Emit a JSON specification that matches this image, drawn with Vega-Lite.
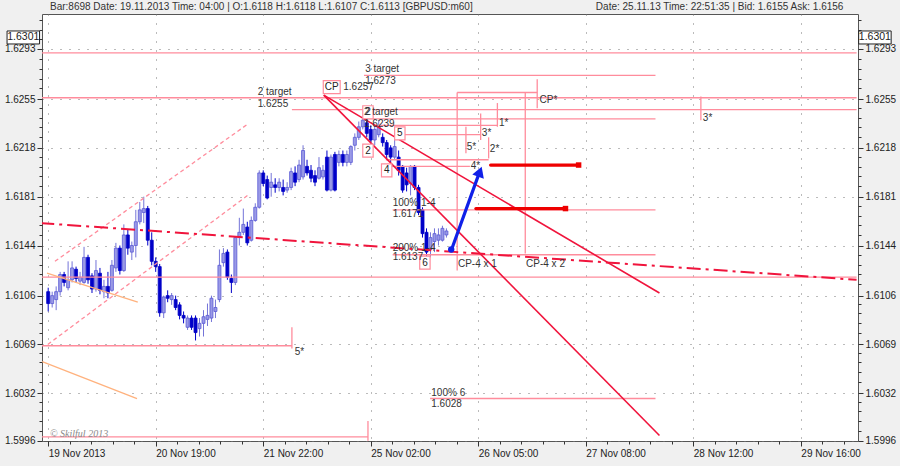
{
"$schema":"https://vega.github.io/schema/vega-lite/v6.json",
"width":816,"height":427,
"autosize":{"type":"none"},
"padding":{"left":42,"top":14,"right":42,"bottom":25},
"background":"#f0f0f0",
"config":{"view":{"fill":"white","stroke":"#555555","strokeWidth":1},"font":"Liberation Sans","axis":{"labelFont":"Liberation Sans","labelFontSize":10,"labelColor":"#222222","tickColor":"#333333","domain":false,"title":null}},
"datasets":{
"candles":[
{"k":0,"o":1.6109,"h":1.6112,"l":1.6094,"c":1.6100},
{"k":1,"o":1.6100,"h":1.6109,"l":1.6097,"c":1.6106},
{"k":2,"o":1.6103,"h":1.6113,"l":1.6095,"c":1.6109},
{"k":3,"o":1.6109,"h":1.6124,"l":1.6106,"c":1.6122},
{"k":4,"o":1.6122,"h":1.6124,"l":1.6113,"c":1.6116},
{"k":5,"o":1.6112,"h":1.6132,"l":1.6110,"c":1.6118},
{"k":6,"o":1.6118,"h":1.6132,"l":1.6116,"c":1.6127},
{"k":7,"o":1.6126,"h":1.6128,"l":1.6116,"c":1.6119},
{"k":8,"o":1.6117,"h":1.6124,"l":1.6114,"c":1.6120},
{"k":9,"o":1.6116,"h":1.6143,"l":1.6115,"c":1.6135},
{"k":10,"o":1.6135,"h":1.6137,"l":1.6115,"c":1.6118},
{"k":11,"o":1.6121,"h":1.6123,"l":1.6108,"c":1.6111},
{"k":12,"o":1.6111,"h":1.6133,"l":1.6109,"c":1.6125},
{"k":13,"o":1.6123,"h":1.6127,"l":1.6107,"c":1.6110},
{"k":14,"o":1.6109,"h":1.6118,"l":1.6104,"c":1.6113},
{"k":15,"o":1.6113,"h":1.6124,"l":1.6104,"c":1.6108},
{"k":16,"o":1.6110,"h":1.6133,"l":1.6109,"c":1.6129},
{"k":17,"o":1.6127,"h":1.6146,"l":1.6124,"c":1.6142},
{"k":18,"o":1.6142,"h":1.6144,"l":1.6122,"c":1.6125},
{"k":19,"o":1.6125,"h":1.6160,"l":1.6124,"c":1.6152},
{"k":20,"o":1.6152,"h":1.6156,"l":1.6137,"c":1.6142},
{"k":21,"o":1.6139,"h":1.6147,"l":1.6133,"c":1.6144},
{"k":22,"o":1.6144,"h":1.6171,"l":1.6135,"c":1.6162},
{"k":23,"o":1.6162,"h":1.6177,"l":1.6160,"c":1.6171},
{"k":24,"o":1.6169,"h":1.6181,"l":1.6161,"c":1.6172},
{"k":25,"o":1.6172,"h":1.6174,"l":1.6144,"c":1.6148},
{"k":26,"o":1.6148,"h":1.6154,"l":1.6129,"c":1.6132},
{"k":27,"o":1.6132,"h":1.6135,"l":1.6124,"c":1.6128},
{"k":28,"o":1.6128,"h":1.6130,"l":1.6090,"c":1.6093},
{"k":29,"o":1.6093,"h":1.6106,"l":1.6089,"c":1.6105},
{"k":30,"o":1.6106,"h":1.6110,"l":1.6101,"c":1.6104},
{"k":31,"o":1.6103,"h":1.6108,"l":1.6099,"c":1.6106},
{"k":32,"o":1.6103,"h":1.6106,"l":1.6095,"c":1.6097},
{"k":33,"o":1.6099,"h":1.6101,"l":1.6088,"c":1.6091},
{"k":34,"o":1.6091,"h":1.6094,"l":1.6085,"c":1.6089},
{"k":35,"o":1.6082,"h":1.6091,"l":1.6080,"c":1.6089},
{"k":36,"o":1.6089,"h":1.6091,"l":1.6080,"c":1.6082},
{"k":37,"o":1.6089,"h":1.6091,"l":1.6072,"c":1.6078},
{"k":38,"o":1.6081,"h":1.6089,"l":1.6075,"c":1.6085},
{"k":39,"o":1.6085,"h":1.6095,"l":1.6075,"c":1.6090},
{"k":40,"o":1.6088,"h":1.6100,"l":1.6083,"c":1.6091},
{"k":41,"o":1.6089,"h":1.6106,"l":1.6086,"c":1.6104},
{"k":42,"o":1.6094,"h":1.6103,"l":1.6089,"c":1.6097},
{"k":43,"o":1.6103,"h":1.6141,"l":1.6101,"c":1.6129},
{"k":44,"o":1.6131,"h":1.6142,"l":1.6128,"c":1.6138},
{"k":45,"o":1.6139,"h":1.6141,"l":1.6118,"c":1.6120},
{"k":46,"o":1.6119,"h":1.6122,"l":1.6108,"c":1.6116},
{"k":47,"o":1.6116,"h":1.6151,"l":1.6114,"c":1.6150},
{"k":48,"o":1.6150,"h":1.6165,"l":1.6144,"c":1.6154},
{"k":49,"o":1.6154,"h":1.6172,"l":1.6152,"c":1.6160},
{"k":50,"o":1.6158,"h":1.6162,"l":1.6144,"c":1.6146},
{"k":51,"o":1.6148,"h":1.6166,"l":1.6147,"c":1.6163},
{"k":52,"o":1.6163,"h":1.6176,"l":1.6162,"c":1.6173},
{"k":53,"o":1.6173,"h":1.6201,"l":1.6172,"c":1.6199},
{"k":54,"o":1.6199,"h":1.6201,"l":1.6189,"c":1.6191},
{"k":55,"o":1.6194,"h":1.6197,"l":1.6179,"c":1.6180},
{"k":56,"o":1.6188,"h":1.6199,"l":1.6181,"c":1.6192},
{"k":57,"o":1.6190,"h":1.6195,"l":1.6184,"c":1.6188},
{"k":58,"o":1.6188,"h":1.6195,"l":1.6185,"c":1.6192},
{"k":59,"o":1.6188,"h":1.6194,"l":1.6182,"c":1.6185},
{"k":60,"o":1.6186,"h":1.6192,"l":1.6184,"c":1.6188},
{"k":61,"o":1.6188,"h":1.6203,"l":1.6186,"c":1.6200},
{"k":62,"o":1.6199,"h":1.6204,"l":1.6189,"c":1.6192},
{"k":63,"o":1.6194,"h":1.6209,"l":1.6192,"c":1.6205},
{"k":64,"o":1.6196,"h":1.6220,"l":1.6194,"c":1.6216},
{"k":65,"o":1.6204,"h":1.6209,"l":1.6197,"c":1.6199},
{"k":66,"o":1.6201,"h":1.6205,"l":1.6192,"c":1.6195},
{"k":67,"o":1.6197,"h":1.6201,"l":1.6189,"c":1.6192},
{"k":68,"o":1.6195,"h":1.6211,"l":1.6194,"c":1.6203},
{"k":69,"o":1.6196,"h":1.6205,"l":1.6194,"c":1.6201},
{"k":70,"o":1.6211,"h":1.6216,"l":1.6185,"c":1.6186},
{"k":71,"o":1.6186,"h":1.6213,"l":1.6185,"c":1.6211},
{"k":72,"o":1.6213,"h":1.6215,"l":1.6185,"c":1.6186},
{"k":73,"o":1.6207,"h":1.6216,"l":1.6204,"c":1.6213},
{"k":74,"o":1.6213,"h":1.6216,"l":1.6204,"c":1.6207},
{"k":75,"o":1.6207,"h":1.6216,"l":1.6204,"c":1.6213},
{"k":76,"o":1.6207,"h":1.6220,"l":1.6205,"c":1.6219},
{"k":77,"o":1.6220,"h":1.6229,"l":1.6216,"c":1.6226},
{"k":78,"o":1.6226,"h":1.6238,"l":1.6224,"c":1.6234},
{"k":79,"o":1.6234,"h":1.6241,"l":1.6232,"c":1.6239},
{"k":80,"o":1.6237,"h":1.6239,"l":1.6226,"c":1.6229},
{"k":81,"o":1.6232,"h":1.6235,"l":1.6220,"c":1.6224},
{"k":82,"o":1.6224,"h":1.6235,"l":1.6220,"c":1.6232},
{"k":83,"o":1.6228,"h":1.6239,"l":1.6226,"c":1.6234},
{"k":84,"o":1.6226,"h":1.6229,"l":1.6219,"c":1.6222},
{"k":85,"o":1.6222,"h":1.6224,"l":1.6209,"c":1.6213},
{"k":86,"o":1.6218,"h":1.6220,"l":1.6207,"c":1.6211},
{"k":87,"o":1.6211,"h":1.6229,"l":1.6209,"c":1.6219},
{"k":88,"o":1.6211,"h":1.6216,"l":1.6197,"c":1.6201},
{"k":89,"o":1.6204,"h":1.6205,"l":1.6184,"c":1.6186},
{"k":90,"o":1.6199,"h":1.6203,"l":1.6185,"c":1.6190},
{"k":91,"o":1.6191,"h":1.6205,"l":1.6182,"c":1.6204},
{"k":92,"o":1.6204,"h":1.6205,"l":1.6186,"c":1.6188},
{"k":93,"o":1.6188,"h":1.6190,"l":1.6167,"c":1.6169},
{"k":94,"o":1.6171,"h":1.6173,"l":1.6150,"c":1.6153},
{"k":95,"o":1.6154,"h":1.6157,"l":1.6135,"c":1.6139},
{"k":96,"o":1.6141,"h":1.6154,"l":1.6135,"c":1.6150},
{"k":97,"o":1.6147,"h":1.6157,"l":1.6139,"c":1.6153},
{"k":98,"o":1.6148,"h":1.6157,"l":1.6144,"c":1.6152},
{"k":99,"o":1.6148,"h":1.6159,"l":1.6147,"c":1.6157},
{"k":100,"o":1.6152,"h":1.6157,"l":1.6150,"c":1.6155}
],
"segs":[
{"kind":"level","k":-2,"p":1.6290,"k2":203,"p2":1.6290},
{"kind":"level","k":-2,"p":1.6256,"k2":203,"p2":1.6256},
{"kind":"level","k":79.3,"p":1.6273,"k2":152.5,"p2":1.6273},
{"kind":"level","k":61.2,"p":1.6247,"k2":203,"p2":1.6247},
{"kind":"level","k":79.3,"p":1.6240,"k2":152.5,"p2":1.6240},
{"kind":"level","k":81.6,"p":1.6235,"k2":112.8,"p2":1.6235},
{"kind":"level","k":88.3,"p":1.6228,"k2":108.6,"p2":1.6228},
{"kind":"level","k":84.8,"p":1.6209,"k2":110.6,"p2":1.6209},
{"kind":"level","k":84.8,"p":1.6204,"k2":105.9,"p2":1.6204},
{"kind":"level","k":86.5,"p":1.6171,"k2":152.5,"p2":1.6171},
{"kind":"level","k":86.5,"p":1.6137,"k2":152.5,"p2":1.6137},
{"kind":"level","k":-2,"p":1.6120,"k2":203,"p2":1.6120},
{"kind":"level","k":-2,"p":1.6068,"k2":61.2,"p2":1.6068},
{"kind":"level","k":95.9,"p":1.6028,"k2":152.5,"p2":1.6028},
{"kind":"level","k":-2,"p":1.5999,"k2":80.3,"p2":1.5999},
{"kind":"level","k":102.7,"p":1.6260,"k2":122.8,"p2":1.6260},
{"kind":"level","k":102.7,"p":1.6260,"k2":102.7,"p2":1.6125},
{"kind":"level","k":119.8,"p":1.6260,"k2":119.8,"p2":1.6138},
{"kind":"level","k":122.8,"p":1.6270,"k2":122.8,"p2":1.6248},
{"kind":"level","k":163.9,"p":1.6257,"k2":163.9,"p2":1.6239},
{"kind":"level","k":112.8,"p":1.6252,"k2":112.8,"p2":1.6234},
{"kind":"level","k":108.6,"p":1.6244,"k2":108.6,"p2":1.6224},
{"kind":"level","k":110.6,"p":1.6226,"k2":110.6,"p2":1.6210},
{"kind":"level","k":104.9,"p":1.6234,"k2":104.9,"p2":1.6214},
{"kind":"level","k":61.2,"p":1.6082,"k2":61.2,"p2":1.6066},
{"kind":"level","k":80.3,"p":1.6011,"k2":80.3,"p2":1.5996},
{"kind":"channel","k":1.7,"p":1.6132,"k2":50.1,"p2":1.6236},
{"kind":"channel","k":-0.1,"p":1.6069,"k2":50.1,"p2":1.6182},
{"kind":"fan","k":-0.3,"p":1.6123,"k2":22.5,"p2":1.6101},
{"kind":"fan","k":-1.5,"p":1.6056,"k2":22.3,"p2":1.6028},
{"kind":"pivot","k":-2,"p":1.6161,"k2":203,"p2":1.6118},
{"kind":"trend","k":69.2,"p":1.6258,"k2":153.5,"p2":1.6108},
{"kind":"trend","k":69.2,"p":1.6258,"k2":153.5,"p2":1.6000},
{"kind":"zone","k":111.1,"p":1.6205,"k2":133.2,"p2":1.6205},
{"kind":"zone","k":107.4,"p":1.6172,"k2":129.9,"p2":1.6172},
{"kind":"forecast","k":101.3,"p":1.6141,"k2":108.0,"p2":1.6197}
],
"arrow":[
{"part":"head","k":108.4,"p":1.6200},
{"part":"start","k":101.2,"p":1.6141}
],
"notes":[
{"k":52.6,"p":1.6260,"t":"2 target"},
{"k":52.6,"p":1.6251,"t":"1.6255"},
{"k":79.6,"p":1.6278,"t":"3 target"},
{"k":79.6,"p":1.6269,"t":"1.6273"},
{"k":74.1,"p":1.6264,"t":"1.6257"},
{"k":79.3,"p":1.6245,"t":"2 target"},
{"k":79.3,"p":1.6236,"t":"1.6239"},
{"k":86.5,"p":1.6176,"t":"100% 1-4"},
{"k":86.5,"p":1.6168,"t":"1.6171"},
{"k":86.5,"p":1.6142,"t":"200% 1-4"},
{"k":86.5,"p":1.6135,"t":"1.6137"},
{"k":96.2,"p":1.6032,"t":"100% 6"},
{"k":96.2,"p":1.6024,"t":"1.6028"},
{"k":102.9,"p":1.6130,"t":"CP-4 x 1"},
{"k":120.0,"p":1.6130,"t":"CP-4 x 2"},
{"k":123.4,"p":1.6254,"t":"CP*"},
{"k":164.4,"p":1.6241,"t":"3*"},
{"k":113.2,"p":1.6237,"t":"1*"},
{"k":108.9,"p":1.6229,"t":"3*"},
{"k":110.9,"p":1.6217,"t":"2*"},
{"k":105.1,"p":1.6219,"t":"5*"},
{"k":106.1,"p":1.6204,"t":"4*"},
{"k":61.9,"p":1.6063,"t":"5*"}
],
"boxes":[
{"k":71.2,"p":1.6264,"t":"CP"},
{"k":80.3,"p":1.6245,"t":"2"},
{"k":80.3,"p":1.6216,"t":"2"},
{"k":88.3,"p":1.6229,"t":"5"},
{"k":85.0,"p":1.6201,"t":"4"},
{"k":94.6,"p":1.6131,"t":"6"}
],
"header":[
{"k":0.45,"p":1.63248,"t":"Bar:8698  Date:  19.11.2013  Time:  04:00  |  O:1.6118  H:1.6118  L:1.6107  C:1.6113   [GBPUSD:m60]","side":"left"},
{"k":199.7,"p":1.63248,"t":"Date: 25.11.13  Time: 22:51:35 | Bid: 1.6155  Ask: 1.6156","side":"right"}
],
"pricebox":[
{"k":-6.25,"p":1.63017,"t":"1.6301"},
{"k":207.6,"p":1.63017,"t":"1.6301"}
],
"copyright":[
{"k":0.45,"p":1.6001,"t":"© Skilful 2013"}
]
},
"resolve":{"scale":{"x":"shared","y":"shared"},"axis":{"x":"independent","y":"independent"}},
"layer":[
{"data":{"name":"candles"},"mark":{"type":"point","opacity":0},
 "encoding":{
  "x":{"field":"k","type":"quantitative","scale":{"domain":[-0.3,202.1],"nice":false,"zero":false},
       "axis":{"orient":"bottom","values":[0,27,54,81,108,135,162,189],"labelExpr":"datum.value == 0 ? '19 Nov 2013' : datum.value == 27 ? '20 Nov 19:00' : datum.value == 54 ? '21 Nov 22:00' : datum.value == 81 ? '25 Nov 02:00' : datum.value == 108 ? '26 Nov 05:00' : datum.value == 135 ? '27 Nov 08:00' : datum.value == 162 ? '28 Nov 12:00' : '29 Nov 16:00'","labelAlign":"left","labelPadding":2,"tickSize":5,"grid":true,"gridDash":[1,8],"gridColor":"#777777","labelOverlap":false,"labelFlush":false}},
  "y":{"field":"c","type":"quantitative","scale":{"domain":[1.59958,1.63195],"nice":false,"zero":false},
       "axis":{"orient":"left","values":[1.5996,1.6032,1.6069,1.6106,1.6144,1.6181,1.6218,1.6255,1.6293],"format":".4f","tickSize":5,"labelPadding":2,"grid":true,"gridDash":[1,8],"gridColor":"#777777","labelOverlap":false,"labelFlush":false}}}},
{"data":{"name":"candles"},"mark":{"type":"point","opacity":0},
 "encoding":{
  "x":{"field":"k","type":"quantitative","scale":{"domain":[-0.3,202.1],"nice":false,"zero":false},
       "axis":{"orient":"bottom","values":[5.4,10.8,16.2,21.6,32.4,37.8,43.2,48.6,59.4,64.8,70.2,75.6,86.4,91.8,97.2,102.6,113.4,118.8,124.2,129.6,140.4,145.8,151.2,156.6,167.4,172.8,178.2,183.6,194.4,199.8],"labels":false,"tickSize":3,"grid":false}},
  "y":{"field":"c","type":"quantitative","scale":{"domain":[1.59958,1.63195],"nice":false,"zero":false},
       "axis":{"orient":"right","values":[1.5996,1.6032,1.6069,1.6106,1.6144,1.6181,1.6218,1.6255,1.6293],"format":".4f","tickSize":5,"labelPadding":2,"grid":false,"labelOverlap":false,"labelFlush":false}}}},
{"data":{"name":"candles"},"mark":{"type":"point","opacity":0},
 "encoding":{
  "x":{"field":"k","type":"quantitative","scale":{"domain":[-0.3,202.1],"nice":false,"zero":false},"axis":null},
  "y":{"field":"c","type":"quantitative","scale":{"domain":[1.59958,1.63195],"nice":false,"zero":false},
       "axis":{"orient":"left","values":[1.60034,1.60108,1.60183,1.60257,1.60405,1.60479,1.60554,1.60628,1.60776,1.6085,1.60925,1.60999,1.61147,1.61222,1.61296,1.6137,1.61518,1.61593,1.61667,1.61741,1.61889,1.61964,1.62038,1.62112,1.6226,1.62335,1.62409,1.62483,1.62632,1.62706,1.6278,1.62854,1.63003,1.63077,1.63151],"labels":false,"tickSize":3,"grid":false}}}},
{"data":{"name":"candles"},"mark":{"type":"point","opacity":0},
 "encoding":{
  "x":{"field":"k","type":"quantitative","scale":{"domain":[-0.3,202.1],"nice":false,"zero":false},"axis":null},
  "y":{"field":"c","type":"quantitative","scale":{"domain":[1.59958,1.63195],"nice":false,"zero":false},
       "axis":{"orient":"right","values":[1.60034,1.60108,1.60183,1.60257,1.60405,1.60479,1.60554,1.60628,1.60776,1.6085,1.60925,1.60999,1.61147,1.61222,1.61296,1.6137,1.61518,1.61593,1.61667,1.61741,1.61889,1.61964,1.62038,1.62112,1.6226,1.62335,1.62409,1.62483,1.62632,1.62706,1.6278,1.62854,1.63003,1.63077,1.63151],"labels":false,"tickSize":3,"grid":false}}}},
{"data":{"name":"candles"},"mark":{"type":"rule","strokeWidth":1},
 "encoding":{
  "x":{"field":"k","type":"quantitative","scale":{"domain":[-0.3,202.1],"nice":false,"zero":false},"axis":null},
  "y":{"field":"h","type":"quantitative","scale":{"domain":[1.59958,1.63195],"nice":false,"zero":false},"axis":null},
  "y2":{"field":"l"},
  "color":{"condition":{"test":"datum.c >= datum.o","value":"#7474d8"},"value":"#0000c8"}}},
{"data":{"name":"candles"},"mark":{"type":"bar","size":3,"strokeWidth":0.8},
 "encoding":{
  "x":{"field":"k","type":"quantitative","scale":{"domain":[-0.3,202.1],"nice":false,"zero":false},"axis":null},
  "y":{"field":"o","type":"quantitative","scale":{"domain":[1.59958,1.63195],"nice":false,"zero":false},"axis":null},
  "y2":{"field":"c"},
  "fill":{"condition":{"test":"datum.c >= datum.o","value":"#9a9ae6"},"value":"#0000c8"},
  "stroke":{"condition":{"test":"datum.c >= datum.o","value":"#5a5ad6"},"value":"#0000c8"}}},
{"data":{"name":"segs"},"transform":[{"filter":"datum.kind == 'level'"}],"mark":{"type":"rule","color":"#ff8c9c","strokeWidth":1.3,"clip":true},
 "encoding":{
  "x":{"field":"k","type":"quantitative","scale":{"domain":[-0.3,202.1],"nice":false,"zero":false},"axis":null},
  "x2":{"field":"k2"},
  "y":{"field":"p","type":"quantitative","scale":{"domain":[1.59958,1.63195],"nice":false,"zero":false},"axis":null},
  "y2":{"field":"p2"}}},
{"data":{"name":"segs"},"transform":[{"filter":"datum.kind == 'channel'"}],"mark":{"type":"rule","color":"#ff8c9c","strokeWidth":1.3,"strokeDash":[4,3],"clip":true},
 "encoding":{
  "x":{"field":"k","type":"quantitative","scale":{"domain":[-0.3,202.1],"nice":false,"zero":false},"axis":null},
  "x2":{"field":"k2"},
  "y":{"field":"p","type":"quantitative","scale":{"domain":[1.59958,1.63195],"nice":false,"zero":false},"axis":null},
  "y2":{"field":"p2"}}},
{"data":{"name":"segs"},"transform":[{"filter":"datum.kind == 'fan'"}],"mark":{"type":"rule","color":"#ffb27e","strokeWidth":1.3,"clip":true},
 "encoding":{
  "x":{"field":"k","type":"quantitative","scale":{"domain":[-0.3,202.1],"nice":false,"zero":false},"axis":null},
  "x2":{"field":"k2"},
  "y":{"field":"p","type":"quantitative","scale":{"domain":[1.59958,1.63195],"nice":false,"zero":false},"axis":null},
  "y2":{"field":"p2"}}},
{"data":{"name":"segs"},"transform":[{"filter":"datum.kind == 'pivot'"}],"mark":{"type":"rule","color":"#f0143c","strokeWidth":2,"strokeDash":[14,5,3,5],"clip":true},
 "encoding":{
  "x":{"field":"k","type":"quantitative","scale":{"domain":[-0.3,202.1],"nice":false,"zero":false},"axis":null},
  "x2":{"field":"k2"},
  "y":{"field":"p","type":"quantitative","scale":{"domain":[1.59958,1.63195],"nice":false,"zero":false},"axis":null},
  "y2":{"field":"p2"}}},
{"data":{"name":"segs"},"transform":[{"filter":"datum.kind == 'trend'"}],"mark":{"type":"rule","color":"#f0143c","strokeWidth":1.6,"clip":true},
 "encoding":{
  "x":{"field":"k","type":"quantitative","scale":{"domain":[-0.3,202.1],"nice":false,"zero":false},"axis":null},
  "x2":{"field":"k2"},
  "y":{"field":"p","type":"quantitative","scale":{"domain":[1.59958,1.63195],"nice":false,"zero":false},"axis":null},
  "y2":{"field":"p2"}}},
{"data":{"name":"segs"},"transform":[{"filter":"datum.kind == 'zone'"}],"mark":{"type":"rule","color":"#ee0000","strokeWidth":3.2,"strokeCap":"round","clip":true},
 "encoding":{
  "x":{"field":"k","type":"quantitative","scale":{"domain":[-0.3,202.1],"nice":false,"zero":false},"axis":null},
  "x2":{"field":"k2"},
  "y":{"field":"p","type":"quantitative","scale":{"domain":[1.59958,1.63195],"nice":false,"zero":false},"axis":null},
  "y2":{"field":"p2"}}},
{"data":{"name":"segs"},"transform":[{"filter":"datum.kind == 'zone'"}],"mark":{"type":"point","shape":"square","size":30,"filled":true,"color":"#ee0000","opacity":1},
 "encoding":{
  "x":{"field":"k2","type":"quantitative","scale":{"domain":[-0.3,202.1],"nice":false,"zero":false},"axis":null},
  "y":{"field":"p2","type":"quantitative","scale":{"domain":[1.59958,1.63195],"nice":false,"zero":false},"axis":null}}},
{"data":{"name":"segs"},"transform":[{"filter":"datum.kind == 'forecast'"}],"mark":{"type":"rule","color":"#1020e8","strokeWidth":3.2,"strokeCap":"round","clip":true},
 "encoding":{
  "x":{"field":"k","type":"quantitative","scale":{"domain":[-0.3,202.1],"nice":false,"zero":false},"axis":null},
  "x2":{"field":"k2"},
  "y":{"field":"p","type":"quantitative","scale":{"domain":[1.59958,1.63195],"nice":false,"zero":false},"axis":null},
  "y2":{"field":"p2"}}},
{"data":{"name":"arrow"},"transform":[{"filter":"datum.part == 'head'"}],"mark":{"type":"point","shape":"triangle-up","size":150,"filled":true,"color":"#1020e8","opacity":1,"angle":20},
 "encoding":{
  "x":{"field":"k","type":"quantitative","scale":{"domain":[-0.3,202.1],"nice":false,"zero":false},"axis":null},
  "y":{"field":"p","type":"quantitative","scale":{"domain":[1.59958,1.63195],"nice":false,"zero":false},"axis":null}}},
{"data":{"name":"arrow"},"transform":[{"filter":"datum.part == 'start'"}],"mark":{"type":"point","shape":"circle","size":40,"filled":true,"color":"#1020e8","opacity":1},
 "encoding":{
  "x":{"field":"k","type":"quantitative","scale":{"domain":[-0.3,202.1],"nice":false,"zero":false},"axis":null},
  "y":{"field":"p","type":"quantitative","scale":{"domain":[1.59958,1.63195],"nice":false,"zero":false},"axis":null}}},
{"data":{"name":"boxes"},"transform":[{"filter":"datum.t == 'CP'"}],"mark":{"type":"point","shape":"M-1.3,-1L1.3,-1L1.3,1L-1.3,1Z","size":169,"filled":true,"fill":"white","stroke":"#ff8c9c","strokeWidth":1.2,"opacity":1},
 "encoding":{
  "x":{"field":"k","type":"quantitative","scale":{"domain":[-0.3,202.1],"nice":false,"zero":false},"axis":null},
  "y":{"field":"p","type":"quantitative","scale":{"domain":[1.59958,1.63195],"nice":false,"zero":false},"axis":null}}},
{"data":{"name":"boxes"},"transform":[{"filter":"datum.t != 'CP'"}],"mark":{"type":"point","shape":"M-0.8,-1L0.8,-1L0.8,1L-0.8,1Z","size":169,"filled":true,"fill":"white","stroke":"#ff8c9c","strokeWidth":1.2,"opacity":1},
 "encoding":{
  "x":{"field":"k","type":"quantitative","scale":{"domain":[-0.3,202.1],"nice":false,"zero":false},"axis":null},
  "y":{"field":"p","type":"quantitative","scale":{"domain":[1.59958,1.63195],"nice":false,"zero":false},"axis":null}}},
{"data":{"name":"boxes"},"mark":{"type":"text","fontSize":10,"color":"#222222","align":"center","baseline":"middle"},
 "encoding":{
  "x":{"field":"k","type":"quantitative","scale":{"domain":[-0.3,202.1],"nice":false,"zero":false},"axis":null},
  "y":{"field":"p","type":"quantitative","scale":{"domain":[1.59958,1.63195],"nice":false,"zero":false},"axis":null},
  "text":{"field":"t"}}},
{"data":{"name":"notes"},"mark":{"type":"text","fontSize":10,"color":"#333333","align":"left","baseline":"middle"},
 "encoding":{
  "x":{"field":"k","type":"quantitative","scale":{"domain":[-0.3,202.1],"nice":false,"zero":false},"axis":null},
  "y":{"field":"p","type":"quantitative","scale":{"domain":[1.59958,1.63195],"nice":false,"zero":false},"axis":null},
  "text":{"field":"t"}}},
{"data":{"name":"header"},"transform":[{"filter":"datum.side == 'left'"}],"mark":{"type":"text","fontSize":10,"color":"#333333","align":"left","baseline":"middle"},
 "encoding":{
  "x":{"field":"k","type":"quantitative","scale":{"domain":[-0.3,202.1],"nice":false,"zero":false},"axis":null},
  "y":{"field":"p","type":"quantitative","scale":{"domain":[1.59958,1.63195],"nice":false,"zero":false},"axis":null},
  "text":{"field":"t"}}},
{"data":{"name":"header"},"transform":[{"filter":"datum.side == 'right'"}],"mark":{"type":"text","fontSize":10,"color":"#333333","align":"right","baseline":"middle"},
 "encoding":{
  "x":{"field":"k","type":"quantitative","scale":{"domain":[-0.3,202.1],"nice":false,"zero":false},"axis":null},
  "y":{"field":"p","type":"quantitative","scale":{"domain":[1.59958,1.63195],"nice":false,"zero":false},"axis":null},
  "text":{"field":"t"}}},
{"data":{"name":"pricebox"},"mark":{"type":"point","shape":"M-2.5,-1L2.5,-1L2.5,1L-2.5,1Z","size":169,"filled":true,"fill":"white","stroke":"#222222","strokeWidth":1,"opacity":1},
 "encoding":{
  "x":{"field":"k","type":"quantitative","scale":{"domain":[-0.3,202.1],"nice":false,"zero":false},"axis":null},
  "y":{"field":"p","type":"quantitative","scale":{"domain":[1.59958,1.63195],"nice":false,"zero":false},"axis":null}}},
{"data":{"name":"pricebox"},"mark":{"type":"text","fontSize":10.5,"color":"#222222","align":"center","baseline":"middle"},
 "encoding":{
  "x":{"field":"k","type":"quantitative","scale":{"domain":[-0.3,202.1],"nice":false,"zero":false},"axis":null},
  "y":{"field":"p","type":"quantitative","scale":{"domain":[1.59958,1.63195],"nice":false,"zero":false},"axis":null},
  "text":{"field":"t"}}},
{"data":{"name":"copyright"},"mark":{"type":"text","font":"Liberation Serif","fontStyle":"italic","fontSize":10,"color":"#8a8a8a","align":"left","baseline":"middle"},
 "encoding":{
  "x":{"field":"k","type":"quantitative","scale":{"domain":[-0.3,202.1],"nice":false,"zero":false},"axis":null},
  "y":{"field":"p","type":"quantitative","scale":{"domain":[1.59958,1.63195],"nice":false,"zero":false},"axis":null},
  "text":{"field":"t"}}}
]
}
